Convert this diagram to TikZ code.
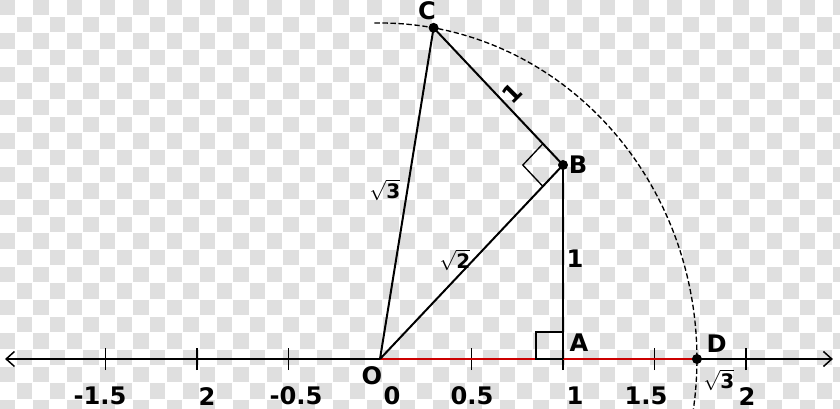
\documentclass[tikz,border=0pt]{standalone}
\usepackage{fontspec}
\setmainfont{DejaVu Sans}
\usetikzlibrary{arrows.meta}
\usetikzlibrary{calc}

\tikzset{
	checker/.style = {fill=gray!25},
	seg/.style = {line width=1.2pt},
	axisline/.style = {line width=0.9pt, {Straight Barb[length=5pt,width=9pt]}-{Straight Barb[length=5pt,width=9pt]}},
	lbl/.style = {font=\bfseries\fontsize{14.5}{16}\selectfont, inner sep=0pt},
	rootlbl/.style = {font=\bfseries\fontsize{12}{14}\selectfont, inner sep=0pt},
	dot/.style = {circle, fill=black, inner sep=0pt, minimum size=6pt}
}

\begin{document}
\begin{tikzpicture}[x=109.8pt, y=116.4pt]
		\useasboundingbox (-2.0765,-0.2577) rectangle (2.5137,1.8505);
		\begin{scope}[shift={(-228pt,215.4pt)}, x=0.6pt, y=-0.6pt]
			\clip (0,0) rectangle (840,409);
			\foreach \i in {0,...,50} {
				\foreach \j in {0,...,24} {
					\ifodd\numexpr\i+\j\relax\else
						\fill[checker] (\i*16.667,\j*16.667) rectangle ++(15.3,15.3);
					\fi
				}
			}
		\end{scope}
		\coordinate (O) at (0,0);
		\coordinate (A) at (1,0);
		\coordinate (B) at (1,1);
		\coordinate (C) at (0.2929,1.7071);
		\coordinate (D) at (1.7321,0);
		\coordinate (left) at (-2.049,0);
		\coordinate (right) at (2.475,0);
		\draw[axisline] (left) -- (right);
		\foreach \t in {-1.5,-1,-0.5,0.5,1,1.5,2}
			\draw[line width=0.9pt] (\t,-0.057) -- (\t,0.057);
		\draw[red!80!black, line width=1.5pt] (O) -- (D);
		\draw[seg] (O) -- (C) -- (B) -- (O);
		\draw[seg] (B) -- (A);
		\draw[line width=0.8pt] (A) -- ++(-0.148,0) -- ++(0,0.139) -- ++(0.148,0);
		\draw[line width=0.8pt] ($(B)!0.155!(C)$) -- ++(-0.11,-0.11) -- ($(B)!0.11!(O)$);
		\draw[line width=0.8pt, dash pattern=on 3.2pt off 1.6pt] plot[domain=91:-10, samples=80, smooth] ({1.7321*cos(\x)},{1.7321*sin(\x)});
		\node[dot] (dC) at (C) {};
		\node[dot] (dB) at (B) {};
		\node[dot] (dD) at (D) {};
		\node[lbl] (lO) at (-0.044,-0.085) {O};
		\node[lbl] (lA) at (1.087,0.082) {A};
		\node[lbl] (lB) at (1.082,1.0) {B};
		\node[lbl] (lC) at (0.257,1.794) {C};
		\node[lbl] (lD) at (1.840,0.080) {D};
		\node[lbl, rotate=45] (eCB) at (0.721,1.371) {1};
		\node[lbl] (eAB) at (1.066,0.515) {1};
		\node[rootlbl] (eOB) at (0.41,0.51) {$\sqrt{\textbf{2}}$};
		\node[rootlbl] (eOC) at (0.027,0.871) {$\sqrt{\textbf{3}}$};
		\node[rootlbl] (eD) at (1.852,-0.108) {$\sqrt{\textbf{3}}$};
		\foreach \x/\t [count=\n] in {-1.530/{-1.5}, -0.945/2, -0.459/{-0.5}, 0.066/0, 0.503/0.5, 1.066/1, 1.454/1.5, 2.005/2}
			\node[lbl] (n\n) at (\x,-0.191) {\t};
	\end{tikzpicture}
\end{document}
